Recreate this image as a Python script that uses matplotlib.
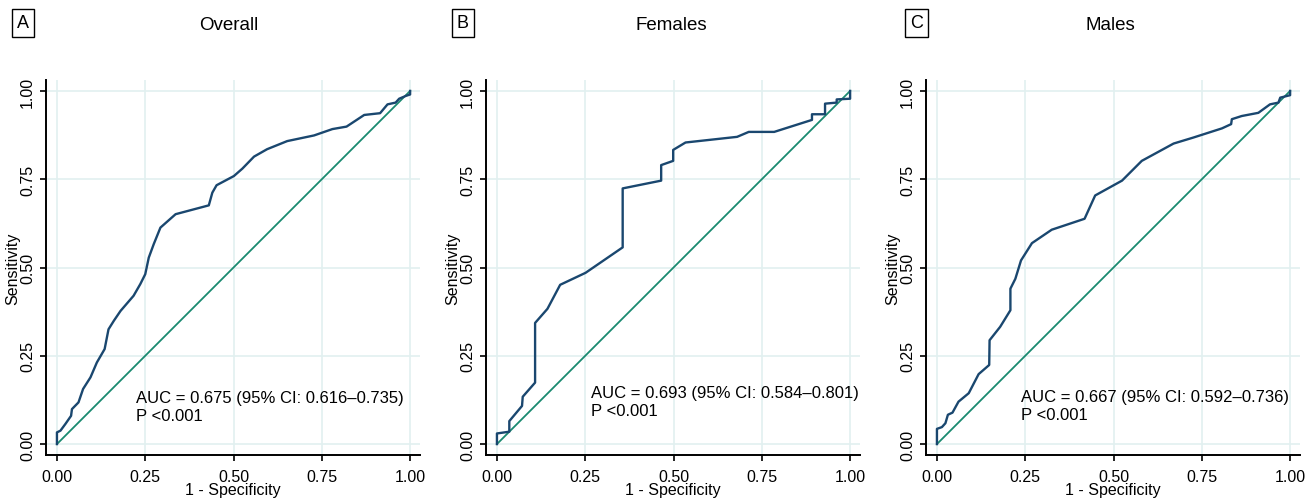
import numpy as np
import matplotlib
matplotlib.use('Agg')
import matplotlib.pyplot as plt

plt.rcParams['font.family'] = ['Liberation Sans', 'DejaVu Sans']

# ROC points (1 - specificity, sensitivity)
overall_fpr = [0, 0, 0.01, 0.024, 0.04, 0.0425, 0.061, 0.074, 0.095, 0.113, 0.135, 0.146,
               0.161, 0.18, 0.217, 0.236, 0.25, 0.26, 0.274, 0.293, 0.336, 0.43, 0.44,
               0.452, 0.501, 0.525, 0.558, 0.595, 0.652, 0.728, 0.78, 0.82, 0.87, 0.915,
               0.936, 0.959, 0.969, 0.988, 1.0, 1.0]
overall_tpr = [0, 0.033, 0.038, 0.057, 0.08, 0.099, 0.118, 0.156, 0.189, 0.231, 0.269, 0.325,
               0.349, 0.377, 0.42, 0.453, 0.481, 0.528, 0.566, 0.613, 0.651, 0.676, 0.712,
               0.733, 0.759, 0.78, 0.814, 0.835, 0.858, 0.874, 0.892, 0.899, 0.932, 0.937,
               0.962, 0.967, 0.978, 0.986, 0.99, 1.0]

female_fpr = [0, 0, 0.035, 0.035, 0.071, 0.073, 0.108, 0.108, 0.143, 0.179, 0.251, 0.356,
              0.356, 0.465, 0.465, 0.499, 0.499, 0.534, 0.68, 0.713, 0.785, 0.892, 0.892,
              0.929, 0.929, 0.962, 0.962, 1.0, 1.0]
female_tpr = [0, 0.03, 0.035, 0.065, 0.108, 0.134, 0.174, 0.343, 0.383, 0.451, 0.485, 0.557,
              0.724, 0.746, 0.79, 0.802, 0.833, 0.854, 0.87, 0.884, 0.884, 0.918, 0.934,
              0.934, 0.964, 0.967, 0.976, 0.978, 1.0]

male_fpr = [0, 0, 0.014, 0.024, 0.031, 0.044, 0.061, 0.09, 0.118, 0.148, 0.149, 0.179, 0.208,
            0.208, 0.222, 0.238, 0.269, 0.325, 0.418, 0.448, 0.524, 0.58, 0.67, 0.726, 0.807,
            0.833, 0.835, 0.863, 0.91, 0.943, 0.967, 0.972, 1.0, 1.0]
male_tpr = [0, 0.043, 0.048, 0.059, 0.083, 0.089, 0.12, 0.144, 0.198, 0.224, 0.294, 0.332,
            0.379, 0.44, 0.468, 0.52, 0.569, 0.607, 0.638, 0.704, 0.746, 0.802, 0.851, 0.868,
            0.894, 0.906, 0.92, 0.929, 0.938, 0.962, 0.967, 0.981, 0.988, 1.0]

labels = ['A', 'B', 'C']
titles = ['Overall', 'Females', 'Males']
auc_texts = ['AUC = 0.675 (95% CI: 0.616\u20130.735)\nP <0.001',
             'AUC = 0.693 (95% CI: 0.584\u20130.801)\nP <0.001',
             'AUC = 0.667 (95% CI: 0.592\u20130.736)\nP <0.001']
text_pos = [(0.225, 0.106), (0.266, 0.12), (0.238, 0.109)]
curves = [(overall_fpr, overall_tpr), (female_fpr, female_tpr), (male_fpr, male_tpr)]
ticks = [0, 0.25, 0.5, 0.75, 1.0]
tick_labels = ['0.00', '0.25', '0.50', '0.75', '1.00']

curve_col = '#1a476f'
diag_col = '#1a8a70'
grid_col = '#e2f0f0'

fig = plt.figure(figsize=(13.14, 5.02), dpi=100)
W, H = 1314, 502
lefts = [46, 486, 926]
label_x = [17, 457, 910]
title_x = [229, 671, 1110]

for i in range(3):
    ax = fig.add_axes([lefts[i] / W, (H - 456) / H, 374 / W, 375 / H])
    fpr, tpr = curves[i]
    ax.plot([0, 1], [0, 1], color=diag_col, lw=1.3, zorder=2)
    ax.plot(fpr, tpr, color=curve_col, lw=1.7, zorder=3)
    ax.set_xlim(-0.031, 1.028)
    ax.set_ylim(-0.031, 1.031)
    ax.set_xticks(ticks)
    ax.set_xticklabels(tick_labels)
    ax.set_yticks(ticks)
    ax.set_yticklabels(tick_labels, rotation=90, va='center')
    ax.grid(True, color=grid_col, lw=1.2, zorder=0)
    ax.set_axisbelow(True)
    for s in ['top', 'right']:
        ax.spines[s].set_visible(False)
    for s in ['left', 'bottom']:
        ax.spines[s].set_linewidth(1.4)
    ax.tick_params(labelsize=11.5, length=4, width=1.2)
    ax.tick_params(axis='x', pad=6)
    ax.tick_params(axis='y', pad=4)
    ax.set_xlabel('1 - Specificity', fontsize=11.5, labelpad=-1)
    ax.set_ylabel('Sensitivity', fontsize=11.5, labelpad=0)
    ax.text(text_pos[i][0], text_pos[i][1], auc_texts[i], fontsize=12, va='center',
            linespacing=1.2)
    fig.text(label_x[i] / W, (H - 24) / H, labels[i], fontsize=13, va='center', ha='left',
             bbox=dict(boxstyle='square,pad=0.3', fc='white', ec='black', lw=1))
    fig.text(title_x[i] / W, (H - 25) / H, titles[i], fontsize=13.5, va='center', ha='center')

fig.savefig('out.png', dpi=100)
